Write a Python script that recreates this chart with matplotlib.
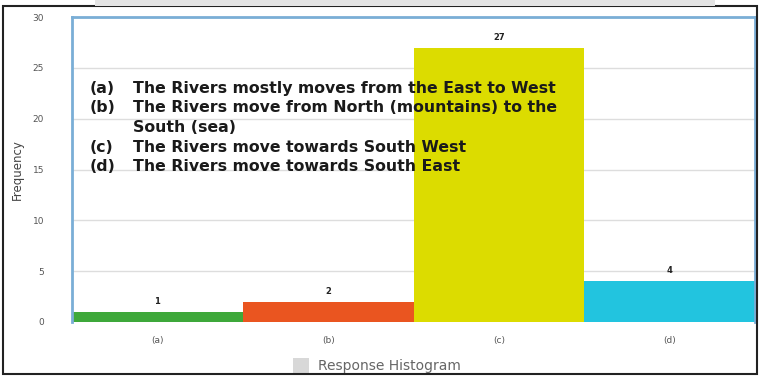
import numpy as np
import matplotlib.pyplot as plt
from matplotlib.patches import Rectangle

categories = ["(a)", "(b)", "(c)", "(d)"]
counts = [1, 2, 27, 4]
bar_colors = ["#3ea83a", "#ea5520", "#dcdc00", "#22c4df"]
yticks = [0, 5, 10, 15, 20, 25, 30]
options = [
    ("(a)", "The Rivers mostly moves from the East to West"),
    ("(b)", "The Rivers move from North (mountains) to the"),
    ("", "South (sea)"),
    ("(c)", "The Rivers move towards South West"),
    ("(d)", "The Rivers move towards South East"),
]

fig = plt.figure(figsize=(7.6, 3.81), dpi=100)
ax = fig.add_axes([0.0947, 0.155, 0.899, 0.80])

x = np.arange(len(categories))
ax.bar(x, counts, width=1.0, color=bar_colors, edgecolor="none", zorder=2)
for xi, c in zip(x, counts):
    ax.text(xi, c + 0.6, str(c), ha="center", va="bottom", fontsize=6,
            fontweight="bold", color="#222222", zorder=4)

ax.set_xlim(-0.5, 3.5)
ax.set_ylim(0, 30)
ax.set_yticks(yticks)
ax.set_yticklabels([str(t) for t in yticks], fontsize=6.5, color="#555555")
ax.set_xticks(x)
ax.set_xticklabels(categories, fontsize=6.5, color="#555555")
ax.tick_params(axis="y", length=0, pad=20)
ax.tick_params(axis="x", length=0, pad=10)
ax.grid(axis="y", color="#dddddd", linewidth=1, zorder=0)
ax.set_axisbelow(True)
for side in ["left", "top", "right"]:
    ax.spines[side].set_color("#7aaed6")
    ax.spines[side].set_linewidth(2)
ax.spines["bottom"].set_visible(False)
ax.set_ylabel("Frequency", fontsize=8.5, color="#444444", labelpad=6)

# option descriptions drawn over the bars
y0 = 0.767
dy = 0.0646
for i, (lab, txt) in enumerate(options):
    yy = y0 - i * dy
    if lab:
        ax.text(0.026, yy, lab, transform=ax.transAxes, fontsize=11.3,
                fontweight="bold", color="#1a1a1a", va="center", zorder=5)
    ax.text(0.089, yy, txt, transform=ax.transAxes, fontsize=11.3,
            fontweight="bold", color="#1a1a1a", va="center", zorder=5)

# legend at the bottom
fig.patches.append(Rectangle((0.385, 0.022), 0.022, 0.038, transform=fig.transFigure,
                             facecolor="#d8d8d8", edgecolor="none"))
fig.text(0.418, 0.040, "Response Histogram", fontsize=10, color="#666666", va="center")

# outer frame and gray strip at top
fig.patches.append(Rectangle((0.004, 0.018), 0.992, 0.965, transform=fig.transFigure,
                             facecolor="none", edgecolor="#222222", linewidth=1.5))
fig.patches.append(Rectangle((0.125, 0.985), 0.816, 0.015, transform=fig.transFigure,
                             facecolor="#e4e4e4", edgecolor="none"))

fig.savefig("out.png", dpi=100)
